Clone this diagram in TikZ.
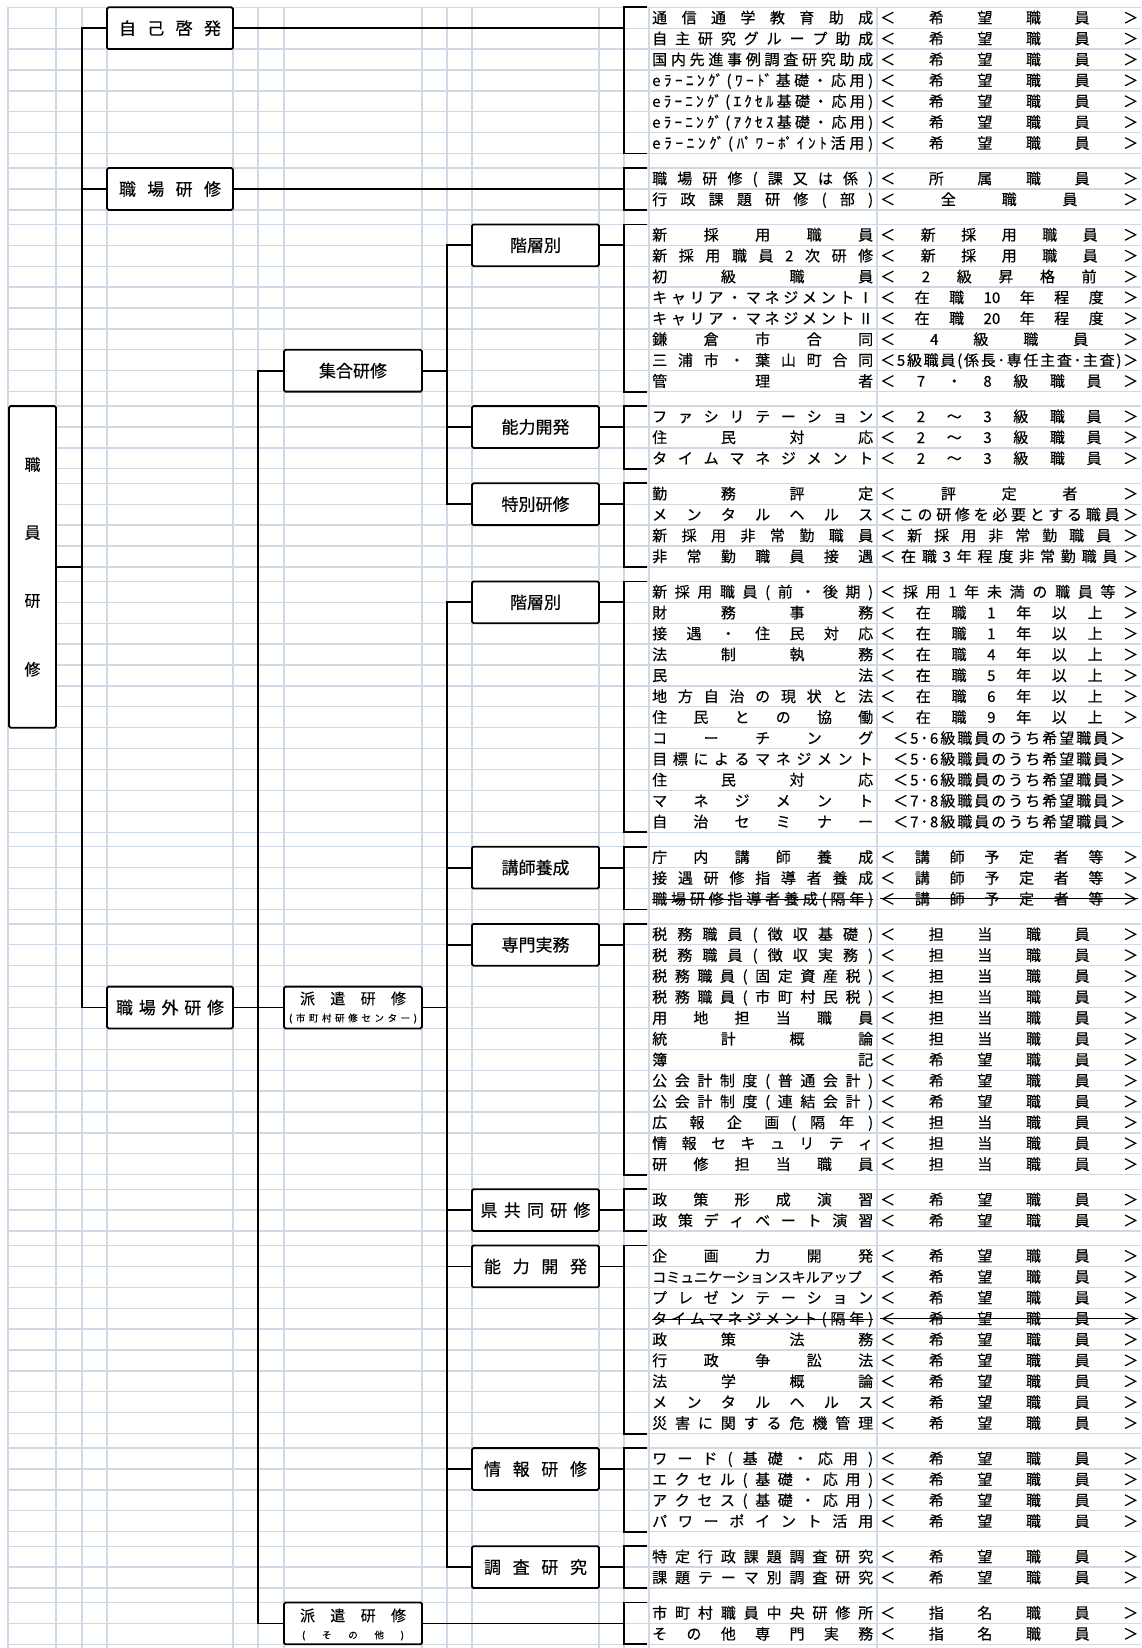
\documentclass[tikz,border=0pt]{standalone}
\usepackage{fontspec}
\setmainfont{Noto Sans CJK JP}[FakeBold=0.35]
\ExplSyntaxOn
\NewDocumentCommand\Dist{mm}
  { \makebox[#1][s]{ \tl_map_inline:nn {#2} { ##1 \hfill } \unskip } }
\ExplSyntaxOff
\definecolor{gridc}{HTML}{D0D7E5}
\newcommand\DL[1]{\Dist{221pt}{#1}}
\newcommand\DR[1]{\Dist{258pt}{#1}}
\newcommand\CR[1]{\makebox[258pt][c]{\Dist{232pt}{#1}}}
\newcommand\Kibo{\DR{＜希望職員＞}}
\newcommand\Tanto{\DR{＜担当職員＞}}
\newcommand\Shimei{\DR{＜指名職員＞}}
\newcommand\It[5]{%
  \node[itm] (#1L) at (652,{#2+#3*20.9+16}) {#4};
  \node[itm] (#1R) at (880,{#2+#3*20.9+16}) {#5};}
\newcommand\Brk[2]{\draw[ln] (646,#1) -- (624,#1) -- (624,#2) -- (646,#2);}
\newcommand\TopA{7.3}
\newcommand\TopB{168.1}
\newcommand\TopC{224.4}
\newcommand\TopD{406.1}
\newcommand\TopE{483.3}
\newcommand\TopF{581.4}
\newcommand\TopG{846.7}
\newcommand\TopH{923.9}
\newcommand\TopI{1189.2}
\newcommand\TopJ{1245.5}
\newcommand\TopK{1448.1}
\newcommand\TopL{1546.2}
\newcommand\TopM{1602.5}
\begin{document}
\begin{tikzpicture}[x=1pt,y=-1pt,
  grid/.style={draw=gridc, line width=1.3pt},
  ln/.style={draw=black, line width=1.8pt, line cap=rect},
  box/.style={draw=black, line width=1.8pt, fill=white, rounded corners=1.5pt, inner sep=0pt},
  itm/.style={anchor=base west, inner sep=0pt, font=\fontsize{15}{18}\selectfont},
  lab/.style={font=\fontsize{17}{20}\selectfont},
  strike/.style={draw=black, line width=1.1pt}]
\useasboundingbox (0,0) rectangle (1141,1648);
\fill[white] (0,0) rectangle (1141,1648);
% grid
\foreach \t/\n in {7.3/7,168.1/2,224.4/8,406.1/3,483.3/4,581.4/12,846.7/3,923.9/12,1189.2/2,1245.5/9,1448.1/4,1546.2/2,1602.5/2}{
  \foreach \k in {0,...,\n}{ \draw[grid] (8,{\t+\k*20.9}) -- (1141,{\t+\k*20.9}); }
}
\foreach \x in {8,56,82,107,233,258,284,422,447,472,599,624,649,877}{ \draw[grid] (\x,7.3) -- (\x,1648); }
% trunk columns and bracket points
\coordinate (t1) at (82,0);
\coordinate (t2) at (258,0);
\coordinate (t3) at (447,0);
\coordinate (bA) at (624,28.2);
\coordinate (bB) at (624,189.0);
\coordinate (bC) at (624,245.3);
\coordinate (bD) at (624,427.0);
\coordinate (bE) at (624,504.2);
\coordinate (bF) at (624,602.3);
\coordinate (bG) at (624,867.6);
\coordinate (bH) at (624,944.8);
\coordinate (bI) at (624,1210.1);
\coordinate (bJ) at (624,1266.4);
\coordinate (bK) at (624,1469.0);
\coordinate (bL) at (624,1567.1);
\coordinate (bM) at (624,1623.4);
% root
\node[box, minimum width=47pt, minimum height=321.6pt] (root) at (32.5,566.9) {};
\node[font=\fontsize{16}{18}\selectfont] (r1) at (32.5,464.5) {職};
\node[font=\fontsize{16}{18}\selectfont] (r2) at (32.5,532.8) {員};
\node[font=\fontsize{16}{18}\selectfont] (r3) at (32.5,601.0) {研};
\node[font=\fontsize{16}{18}\selectfont] (r4) at (32.5,669.3) {修};
% level 1
\node[box, lab, minimum width=126pt, minimum height=41.8pt] (jiko) at (170,28.2) {\Dist{102pt}{自己啓発}};
\node[box, lab, minimum width=126pt, minimum height=41.8pt] (shokuba) at (170,189.0) {\Dist{102pt}{職場研修}};
\node[box, lab, minimum width=126pt, minimum height=41.8pt] (shokugai) at (170,1007.5) {\Dist{108pt}{職場外研修}};
% level 2
\node[box, lab, minimum width=138pt, minimum height=41.8pt] (shugo) at (353,370.7) {集合研修};
\node[box, minimum width=138pt, minimum height=41.8pt] (haken) at (353,1007.5) {};
\node[font=\fontsize{15}{17}\selectfont] (hakenT) at (353,998.5) {\Dist{106pt}{派遣研修}};
\node[font=\fontsize{9.5}{11}\selectfont] (hakenS) at (353,1018.5) {\Dist{128pt}{(市町村研修センター)}};
\node[box, minimum width=138pt, minimum height=41.8pt] (hakenO) at (353,1623.4) {};
\node[font=\fontsize{15}{17}\selectfont] (hakenOT) at (353,1615.5) {\Dist{106pt}{派遣研修}};
\node[font=\fontsize{9.5}{11}\selectfont] (hakenOS) at (353,1635.5) {\Dist{102pt}{(その他)}};
% level 3
\begin{scope}[every node/.style={box, lab, minimum width=127pt, minimum height=41.8pt}]
\node (cKai) at (535.5,245.3) {階層別};
\node (dNou) at (535.5,427.0) {能力開発};
\node (eTok) at (535.5,504.2) {特別研修};
\node (fKai) at (535.5,602.3) {階層別};
\node (gKou) at (535.5,867.6) {講師養成};
\node (hSen) at (535.5,944.8) {専門実務};
\node (iKen) at (535.5,1210.1) {\Dist{110pt}{県共同研修}};
\node (jNou) at (535.5,1266.4) {\Dist{103pt}{能力開発}};
\node (kJou) at (535.5,1469.0) {\Dist{103pt}{情報研修}};
\node (lCho) at (535.5,1567.1) {\Dist{103pt}{調査研究}};
\end{scope}
% connectors
\draw[ln] (root.east) -- (root.east -| t1);
\draw[ln] (jiko.west -| t1) -- (shokugai.west -| t1);
\draw[ln] (jiko.west -| t1) -- (jiko.west);
\draw[ln] (shokuba.west -| t1) -- (shokuba.west);
\draw[ln] (shokugai.west -| t1) -- (shokugai.west);
\draw[ln] (jiko.east) -- (bA);
\draw[ln] (shokuba.east) -- (bB);
\draw[ln] (shokugai.east) -- (shokugai.east -| t2);
\draw[ln] (shugo.west -| t2) -- (hakenO.west -| t2);
\draw[ln] (shugo.west -| t2) -- (shugo.west);
\draw[ln] (haken.west -| t2) -- (haken.west);
\draw[ln] (hakenO.west -| t2) -- (hakenO.west);
\draw[ln] (hakenO.east) -- (bM);
\draw[ln] (shugo.east) -- (shugo.east -| t3);
\draw[ln] (haken.east) -- (haken.east -| t3);
\draw[ln] (cKai.west -| t3) -- (eTok.west -| t3);
\draw[ln] (fKai.west -| t3) -- (lCho.west -| t3);
\foreach \b/\g in {cKai/C,dNou/D,eTok/E,fKai/F,gKou/G,hSen/H,iKen/I,jNou/J,kJou/K,lCho/L}{
  \draw[ln] (\b.west -| t3) -- (\b.west);
  \draw[ln] (\b.east) -- (b\g);
}
% brackets
\Brk{7.3}{153.6}
\Brk{168.1}{209.9}
\Brk{224.4}{391.6}
\Brk{406.1}{468.8}
\Brk{483.3}{566.9}
\Brk{581.4}{832.2}
\Brk{846.7}{909.4}
\Brk{923.9}{1174.7}
\Brk{1189.2}{1231.0}
\Brk{1245.5}{1433.6}
\Brk{1448.1}{1531.7}
\Brk{1546.2}{1588.0}
\Brk{1602.5}{1644.3}
% items A
\It{a1}{\TopA}{0}{\DL{通信通学教育助成}}{\Kibo}
\It{a2}{\TopA}{1}{\DL{自主研究グループ助成}}{\Kibo}
\It{a3}{\TopA}{2}{\DL{国内先進事例調査研究助成}}{\Kibo}
\It{a4}{\TopA}{3}{\DL{eﾗｰﾆﾝ{ｸﾞ}(ﾜｰ{ﾄﾞ}基礎・応用)}}{\Kibo}
\It{a5}{\TopA}{4}{\DL{eﾗｰﾆﾝ{ｸﾞ}(ｴｸｾﾙ基礎・応用)}}{\Kibo}
\It{a6}{\TopA}{5}{\DL{eﾗｰﾆﾝ{ｸﾞ}(ｱｸｾｽ基礎・応用)}}{\Kibo}
\It{a7}{\TopA}{6}{\DL{eﾗｰﾆﾝ{ｸﾞ}({ﾊﾟ}ﾜｰ{ﾎﾟ}ｲﾝﾄ活用)}}{\Kibo}
% B
\It{b1}{\TopB}{0}{\DL{職場研修(課又は係)}}{\DR{＜所属職員＞}}
\It{b2}{\TopB}{1}{\DL{行政課題研修(部)}}{\DR{＜全職員＞}}
% C
\It{c1}{\TopC}{0}{\DL{新採用職員}}{\DR{＜新採用職員＞}}
\It{c2}{\TopC}{1}{\DL{新採用職員2次研修}}{\DR{＜新採用職員＞}}
\It{c3}{\TopC}{2}{\DL{初級職員}}{\DR{＜2級昇格前＞}}
\It{c4}{\TopC}{3}{\DL{キャリア・マネジメントⅠ}}{\DR{＜在職{10}年程度＞}}
\It{c5}{\TopC}{4}{\DL{キャリア・マネジメントⅡ}}{\DR{＜在職{20}年程度＞}}
\It{c6}{\TopC}{5}{\DL{鎌倉市合同}}{\DR{＜4級職員＞}}
\It{c7}{\TopC}{6}{\DL{三浦市・葉山町合同}}{\DR{＜5級職員(係長･専任主査･主査)＞}}
\It{c8}{\TopC}{7}{\DL{管理者}}{\DR{＜7・8級職員＞}}
% D
\It{d1}{\TopD}{0}{\DL{ファシリテーション}}{\DR{＜2～3級職員＞}}
\It{d2}{\TopD}{1}{\DL{住民対応}}{\DR{＜2～3級職員＞}}
\It{d3}{\TopD}{2}{\DL{タイムマネジメント}}{\DR{＜2～3級職員＞}}
% E
\It{e1}{\TopE}{0}{\DL{勤務評定}}{\DR{＜評定者＞}}
\It{e2}{\TopE}{1}{\DL{メンタルヘルス}}{\DR{＜この研修を必要とする職員＞}}
\It{e3}{\TopE}{2}{\DL{新採用非常勤職員}}{\DR{＜新採用非常勤職員＞}}
\It{e4}{\TopE}{3}{\DL{非常勤職員接遇}}{\DR{＜在職3年程度非常勤職員＞}}
% F
\It{f1}{\TopF}{0}{\DL{新採用職員(前・後期)}}{\DR{＜採用1年未満の職員等＞}}
\It{f2}{\TopF}{1}{\DL{財務事務}}{\DR{＜在職1年以上＞}}
\It{f3}{\TopF}{2}{\DL{接遇・住民対応}}{\DR{＜在職1年以上＞}}
\It{f4}{\TopF}{3}{\DL{法制執務}}{\DR{＜在職4年以上＞}}
\It{f5}{\TopF}{4}{\DL{民法}}{\DR{＜在職5年以上＞}}
\It{f6}{\TopF}{5}{\DL{地方自治の現状と法}}{\DR{＜在職6年以上＞}}
\It{f7}{\TopF}{6}{\DL{住民との協働}}{\DR{＜在職9年以上＞}}
\It{f8}{\TopF}{7}{\DL{コーチング}}{\CR{＜5･6級職員のうち希望職員＞}}
\It{f9}{\TopF}{8}{\DL{目標によるマネジメント}}{\CR{＜5･6級職員のうち希望職員＞}}
\It{f10}{\TopF}{9}{\DL{住民対応}}{\CR{＜5･6級職員のうち希望職員＞}}
\It{f11}{\TopF}{10}{\DL{マネジメント}}{\CR{＜7･8級職員のうち希望職員＞}}
\It{f12}{\TopF}{11}{\DL{自治セミナー}}{\CR{＜7･8級職員のうち希望職員＞}}
% G
\It{g1}{\TopG}{0}{\DL{庁内講師養成}}{\DR{＜講師予定者等＞}}
\It{g2}{\TopG}{1}{\DL{接遇研修指導者養成}}{\DR{＜講師予定者等＞}}
\It{g3}{\TopG}{2}{\DL{職場研修指導者養成(隔年)}}{\DR{＜講師予定者等＞}}
\draw[strike] (g3L.west) -- (g3L.east);
\draw[strike] (g3R.west) -- (g3R.east);
% H
\It{h1}{\TopH}{0}{\DL{税務職員(徴収基礎)}}{\Tanto}
\It{h2}{\TopH}{1}{\DL{税務職員(徴収実務)}}{\Tanto}
\It{h3}{\TopH}{2}{\DL{税務職員(固定資産税)}}{\Tanto}
\It{h4}{\TopH}{3}{\DL{税務職員(市町村民税)}}{\Tanto}
\It{h5}{\TopH}{4}{\DL{用地担当職員}}{\Tanto}
\It{h6}{\TopH}{5}{\DL{統計概論}}{\Tanto}
\It{h7}{\TopH}{6}{\DL{簿記}}{\Kibo}
\It{h8}{\TopH}{7}{\DL{公会計制度(普通会計)}}{\Kibo}
\It{h9}{\TopH}{8}{\DL{公会計制度(連結会計)}}{\Kibo}
\It{h10}{\TopH}{9}{\makebox[221pt][s]{\Dist{127pt}{広報企画}\hfill\Dist{82pt}{(隔年)}}}{\Tanto}
\It{h11}{\TopH}{10}{\DL{情報セキュリティ}}{\Tanto}
\It{h12}{\TopH}{11}{\DL{研修担当職員}}{\Tanto}
% I
\It{i1}{\TopI}{0}{\DL{政策形成演習}}{\Kibo}
\It{i2}{\TopI}{1}{\DL{政策ディベート演習}}{\Kibo}
% J
\It{j1}{\TopJ}{0}{\DL{企画力開発}}{\Kibo}
\It{j2}{\TopJ}{1}{{\fontsize{14}{16}\selectfont コミュニケーションスキルアップ}}{\Kibo}
\It{j3}{\TopJ}{2}{\DL{プレゼンテーション}}{\Kibo}
\It{j4}{\TopJ}{3}{\DL{タイムマネジメント(隔年)}}{\Kibo}
\draw[strike] (j4L.west) -- (j4L.east);
\draw[strike] (j4R.west) -- (j4R.east);
\It{j5}{\TopJ}{4}{\DL{政策法務}}{\Kibo}
\It{j6}{\TopJ}{5}{\DL{行政争訟法}}{\Kibo}
\It{j7}{\TopJ}{6}{\DL{法学概論}}{\Kibo}
\It{j8}{\TopJ}{7}{\DL{メンタルヘルス}}{\Kibo}
\It{j9}{\TopJ}{8}{\DL{災害に関する危機管理}}{\Kibo}
% K
\It{k1}{\TopK}{0}{\DL{ワード(基礎・応用)}}{\Kibo}
\It{k2}{\TopK}{1}{\DL{エクセル(基礎・応用)}}{\Kibo}
\It{k3}{\TopK}{2}{\DL{アクセス(基礎・応用)}}{\Kibo}
\It{k4}{\TopK}{3}{\DL{パワーポイント活用}}{\Kibo}
% L
\It{l1}{\TopL}{0}{\DL{特定行政課題調査研究}}{\Kibo}
\It{l2}{\TopL}{1}{\DL{課題テーマ別調査研究}}{\Kibo}
% M
\It{m1}{\TopM}{0}{\DL{市町村職員中央研修所}}{\Shimei}
\It{m2}{\TopM}{1}{\DL{その他専門実務}}{\Shimei}
\end{tikzpicture}
\end{document}
